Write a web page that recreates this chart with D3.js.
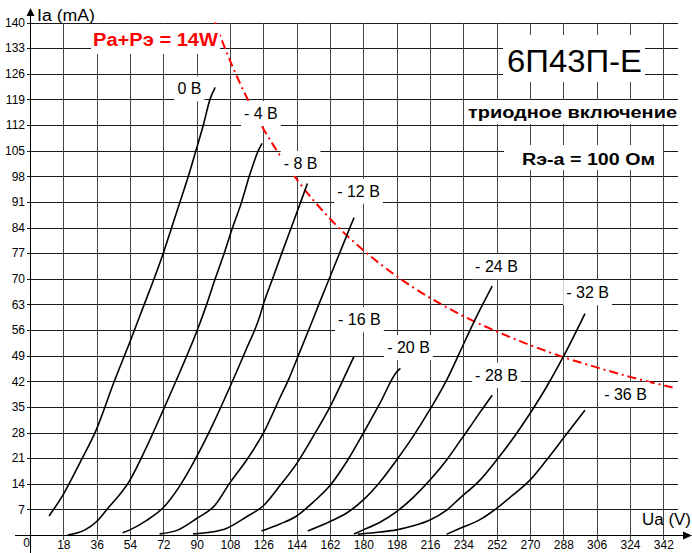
<!DOCTYPE html>
<html><head><meta charset="utf-8">
<script src="https://cdn.jsdelivr.net/npm/d3@7"></script>
<style>
body{margin:0;background:#fff}
svg{display:block}
text{font-family:Arial,"Liberation Sans",sans-serif}
</style>
</head><body>
<svg id="chart" width="692" height="553"></svg>
<script>
// ---- data ----
const xTicks = [18,36,54,72,90,108,126,144,162,180,198,216,234,252,270,288,306,324,342];
const yTicks = [7,14,21,28,35,42,49,56,63,70,77,84,91,98,105,112,119,126,133,140];

const grid0   = [[10.3,5.2],[18,11.1],[27,19.8],[36,29],[45,41.3],[54,52.8],[61.7,63],[67,70],[72,77],[76.5,84],[81,91],[85.5,98],[89.6,105],[93.6,112],[97.2,119],[100,122.3]];
const gridM4  = [[20.3,0],[29.7,1.4],[36,3.7],[41.4,6.9],[54,15],[63,24.1],[72,34.2],[81,44.6],[90,55.5],[95.4,63],[100,70],[104.9,77],[109.4,84],[114.3,91],[118.4,98],[123.3,105],[125.3,107]];
const gridM8  = [[50,0.6],[54,1.4],[63,4],[72,7.5],[81,13.5],[90,21.4],[99,30.5],[108,40.5],[117,51],[124,59.6],[126,63],[131,70],[136,77],[141.1,84],[146.2,91],[149.8,96]];
const gridM12 = [[70,0.3],[80,1.4],[90,4.5],[100,8.2],[108,14.3],[117,20.5],[126,27.8],[135,37.5],[139.5,42.3],[144.9,49],[150.5,56],[156,63],[161.6,70],[167.2,77],[172.8,84],[175,86.7]];
const gridM16 = [[88,0.3],[98,0.8],[106,1.8],[117,5],[126,8],[135,13.5],[144,19.5],[153,27],[162,35],[169,42.3],[175,48.8]];
const gridM20 = [[125,1.1],[135,3],[144,5.2],[153,9],[162,13.5],[171,20],[180,27.8],[189,36],[198,44.5],[200,45.5]];
const gridM24 = [[150,1.1],[162,3.7],[171,6],[180,9.6],[189,14.5],[198,20.5],[207,27],[216,34.3],[225,42.3],[232,49.8],[240,58.5],[249.6,68]];
const gridM28 = [[175,0.3],[180,1.4],[189,3.5],[198,6.4],[207,10.3],[216,15],[225,20.5],[232,25.5],[237.6,29.5],[243,33.5],[249.6,38.2]];
const gridM32 = [[177,0.2],[189,0.8],[198,1.4],[207,2.5],[216,4.1],[225,6.8],[232,10],[243,15],[252,20.5],[261,26.5],[270,33.2],[279,40.5],[288,48.7],[299.7,60.5]];
const gridM36 = [[225,0.2],[232,1.8],[243,4.2],[252,7.3],[261,11],[270,15],[279,20.5],[288,26.4],[299.7,34.1]];

const curves = [grid0, gridM4, gridM8, gridM12, gridM16, gridM20, gridM24, gridM28, gridM32, gridM36];
const curveLabels = ["0 В","- 4 В","- 8 В","- 12 В","- 16 В","- 20 В","- 24 В","- 28 В","- 32 В","- 36 В"];
// label anchor (centre, baseline) in data units (Ua, Ia)
const labelUa = [86.1,124.7,146.1,177.4,177.9,204.4,251.9,251.9,301.1,321.6];
const labelIa = [120.4,113.6,100.0,92.4,57.3,49.7,71.8,42.1,64.7,36.9];

// max dissipation Pa+Pэ = 14 W
const powerLimit = [[100,140],[108,129.6],[117,119.6],[126,111],[135,103.7],[144,97.2],[162,86.4],[180,77.8],[198,70.7],[216,64.8],[234,59.8],[252,55.6],[270,51.9],[288,48.6],[306,45.8],[324,43.2],[342,40.9],[347,40.3]];

// ---- drawing ----
const svg = d3.select("#chart");
const x = d3.scaleLinear().domain([0, 342]).range([30, 663.3]);
const y = d3.scaleLinear().domain([0, 140]).range([535, 22.5]);
const xRight = x(350);

svg.append("rect").attr("width",692).attr("height",553).attr("fill","#fff");

// grid
const g = svg.append("g").attr("shape-rendering","crispEdges");
g.selectAll("line.h").data(yTicks).join("line")
  .attr("x1", x(0)-3).attr("x2", xRight)
  .attr("y1", d=>Math.round(y(d))+0.5).attr("y2", d=>Math.round(y(d))+0.5)
  .attr("stroke","#1a1a1a").attr("stroke-width",1);
g.selectAll("line.v").data(xTicks).join("line")
  .attr("x1", d=>Math.round(x(d))+0.5).attr("x2", d=>Math.round(x(d))+0.5)
  .attr("y1", y(140)).attr("y2", y(0)+5)
  .attr("stroke","#444").attr("stroke-width",1);

// power limit dash-dot line
svg.append("path").datum(powerLimit)
  .attr("d", d3.line().x(d=>x(d[0])).y(d=>y(d[1])).curve(d3.curveMonotoneX))
  .attr("fill","none").attr("stroke","#ff0000").attr("stroke-width",2)
  .attr("stroke-dasharray","9,4,2,4");

// anode curves
const line = d3.line().x(d=>x(d[0])).y(d=>y(d[1])).curve(d3.curveMonotoneX);
svg.selectAll("path.curve").data(curves).join("path")
  .attr("class","curve").attr("d", line)
  .attr("fill","none").attr("stroke","#000").attr("stroke-width",1.6);

// boxed text helper
function boxedText(px, py, str, opts){
  const grp = svg.append("g");
  const r = grp.append("rect").attr("fill","#fff");
  const t = grp.append("text").attr("x",px).attr("y",py).text(str)
    .attr("font-size",opts.size).attr("fill",opts.color||"#000")
    .attr("font-weight",opts.weight||"normal")
    .attr("text-anchor",opts.anchor||"start");
  if(opts.len){ t.attr("textLength",opts.len).attr("lengthAdjust","spacingAndGlyphs"); }
  const b = t.node().getBBox();
  const p = opts.pad || [3,3,3,3]; // top,right,bottom,left
  r.attr("x",b.x-p[3]).attr("y",b.y-p[0]).attr("width",b.width+p[1]+p[3]).attr("height",b.height+p[0]+p[2]);
  return grp;
}

// curve labels
curveLabels.forEach((s,i)=>{
  boxedText(x(labelUa[i]), y(labelIa[i]), s, {size:16, anchor:"middle", pad:[4,3,4,3]});
});

// headings
boxedText(93, 46, "Pa+Pэ = 14W", {size:18, weight:"bold", color:"#ff0000", len:125, pad:[6,2,4,2]});
boxedText(507, 72, "6П43П-Е", {size:32, len:135, pad:[8,3,3,4]});
boxedText(468, 118, "триодное включение", {size:16, weight:"bold", len:209, pad:[4,3,3,2]});
boxedText(522, 165, "Rэ-а = 100 Ом", {size:16, weight:"bold", len:133, pad:[6,8,2,18]});

// axes
const ax = svg.append("g");
const xa = ax.append("g").attr("transform",`translate(0,${y(0)})`)
  .call(d3.axisBottom(x).tickValues(xTicks).tickSize(0).tickPadding(5.5));
xa.select(".domain").remove();
xa.selectAll("text").attr("font-size",12).attr("fill","#000").style("font-family","Arial, 'Liberation Sans', sans-serif");
const ya = ax.append("g").attr("transform",`translate(${x(0)},0)`)
  .call(d3.axisLeft(y).tickValues(yTicks).tickSize(0).tickPadding(5));
ya.select(".domain").remove();
ya.selectAll("text").attr("font-size",12).attr("fill","#000").style("font-family","Arial, 'Liberation Sans', sans-serif");
ax.append("text").attr("x",26.5).attr("y",547).attr("text-anchor","middle").attr("font-size",12).text("0");

// axis lines + arrows
ax.append("line").attr("x1",x(0)+0.5).attr("x2",x(0)+0.5).attr("y1",14).attr("y2",553)
  .attr("stroke","#000").attr("stroke-width",1).attr("shape-rendering","crispEdges");
ax.append("line").attr("x1",15).attr("x2",685).attr("y1",Math.round(y(0))+0.5).attr("y2",Math.round(y(0))+0.5)
  .attr("stroke","#000").attr("stroke-width",1).attr("shape-rendering","crispEdges");
ax.append("path").attr("d",`M${x(0)+0.5},8 L${x(0)-3.5},16 L${x(0)+4.5},16 Z`).attr("fill","#000");
ax.append("path").attr("d",`M692,${y(0)+0.5} L683,${y(0)-3.5} L683,${y(0)+4.5} Z`).attr("fill","#000");

ax.append("text").attr("x",37).attr("y",21).attr("font-size",16).attr("textLength",58).attr("lengthAdjust","spacingAndGlyphs").text("Ia (mA)");
ax.append("text").attr("x",642).attr("y",525).attr("font-size",16).attr("textLength",49).attr("lengthAdjust","spacingAndGlyphs").text("Ua (V)");
</script>
</body></html>
